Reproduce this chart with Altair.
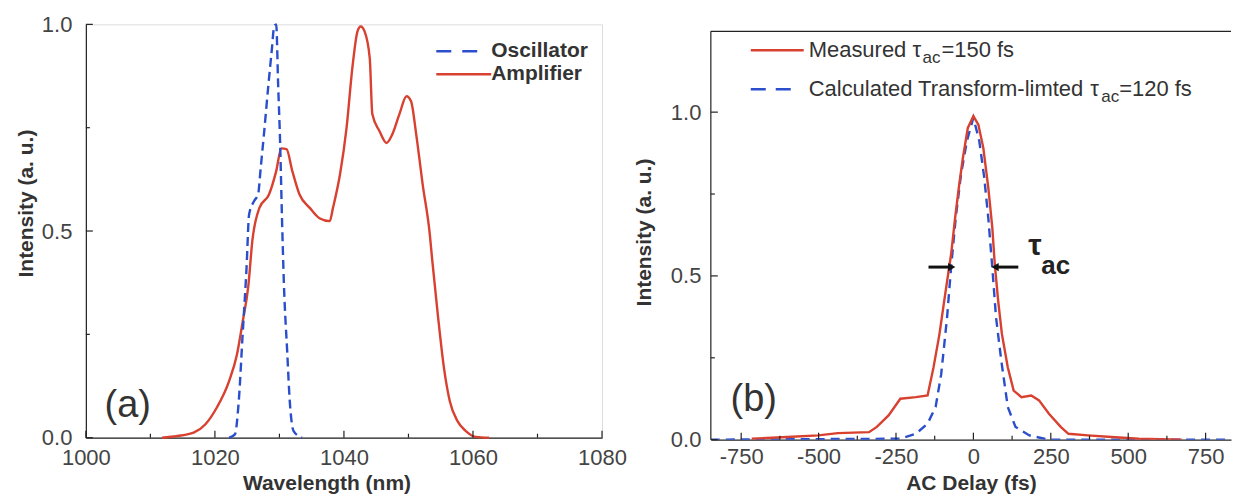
import altair as alt
import pandas as pd

# ---------------- panel (a): spectra ----------------
amp_wl = [1011.8, 1014.2, 1016.7, 1018.5, 1020.3, 1022.2, 1023.4, 1024.3, 1025.2, 1025.8,
          1026.9, 1028.4, 1029.5, 1030.3, 1031.1, 1032.0, 1033.1, 1034.7, 1036.2, 1037.8,
          1038.3, 1039.4, 1040.4, 1041.3, 1042.1, 1042.6, 1043.2, 1044.0, 1044.4, 1045.5,
          1046.6, 1047.5, 1048.6, 1049.7, 1050.4, 1051.2, 1052.2, 1053.3, 1053.7, 1054.6,
          1055.5, 1056.4, 1057.6, 1058.9, 1060.4, 1062.5]
amp_int = [0.0, 0.004, 0.012, 0.032, 0.073, 0.137, 0.2, 0.28, 0.37, 0.476,
           0.556, 0.589, 0.645, 0.70, 0.698, 0.645, 0.589, 0.556, 0.531, 0.524,
           0.556, 0.638, 0.749, 0.894, 0.983, 0.995, 0.983, 0.918, 0.783, 0.742,
           0.713, 0.734, 0.783, 0.826, 0.814, 0.734, 0.613, 0.493, 0.427, 0.29,
           0.169, 0.089, 0.04, 0.016, 0.002, 0.0]

osc_wl = [1022.2, 1023.1, 1023.7, 1024.3, 1024.9, 1025.3, 1026.1, 1026.7, 1027.1, 1027.6,
          1028.3, 1028.8, 1029.2, 1029.5, 1029.8, 1030.1, 1030.4, 1030.7, 1031.2, 1031.6,
          1032.2, 1033.5]
osc_int = [0.0, 0.008, 0.089, 0.25, 0.41, 0.54, 0.573, 0.589, 0.653, 0.734,
           0.855, 0.935, 0.996, 1.0, 0.855, 0.718, 0.53, 0.37, 0.21, 0.089,
           0.016, 0.0]

# ---------------- panel (b): autocorrelation ----------------
meas_t = [-716, -602, -501, -438, -337, -312, -274, -236, -186, -148,
          -129, -110, -91, -72, -59, -47, -34, -18, 0, 16,
          32, 48, 61, 69, 80, 92, 111, 130, 155, 187,
          212, 244, 282, 307, 370, 446, 534, 673]
meas_int = [0.003, 0.008, 0.013, 0.02, 0.023, 0.039, 0.074, 0.125, 0.13, 0.135,
            0.22, 0.32, 0.445, 0.566, 0.678, 0.77, 0.86, 0.952, 0.988, 0.962,
            0.891, 0.77, 0.648, 0.536, 0.424, 0.323, 0.221, 0.15, 0.13, 0.135,
            0.12, 0.079, 0.039, 0.018, 0.013, 0.008, 0.003, 0.0]

calc_t = [-848, -236, -186, -148, -122, -104, -85, -72, -57, -40,
          -21, 0, 19, 35, 48, 61, 73, 90, 111, 136,
          181, 244, 832]
calc_int = [0.0, 0.003, 0.018, 0.049, 0.1, 0.2, 0.374, 0.526, 0.678, 0.81,
            0.912, 0.983, 0.912, 0.8, 0.678, 0.526, 0.374, 0.242, 0.1, 0.039,
            0.013, 0.0, 0.0]

# FWHM markers
arrow_tail = [-145, 145]
arrow_tip = [-70, 70]
arrow_level = 0.527

# tick positions
a_x_major = [1000, 1020, 1040, 1060, 1080]
a_x_minor = [1010, 1030, 1050, 1070]
b_x_major = [-750, -500, -250, 0, 250, 500, 750]
b_x_minor = [-625, -375, -125, 125, 375, 625]
y_major = [0.0, 0.5, 1.0]
y_minor = [0.25, 0.75]

RED = "#d8402f"
BLUE = "#2b4fcc"
FONT = "Liberation Sans"
INK = "#222222"
TXT = "#333333"

W_A, H_A = 517, 414
W_B, H_B = 521, 416

xs_a = alt.Scale(domain=[1000, 1080], nice=False, zero=False)
ys_a = alt.Scale(domain=[0, 1], nice=False)
xs_b = alt.Scale(domain=[-848, 832], nice=False, zero=False)
ys_b = alt.Scale(domain=[0, 1.268], nice=False)


def x_axis(title, values, lpad, tpad, title_x=None, expr=None):
    kw = dict(title=title, values=values, ticks=False, tickSize=0, grid=False,
              labelPadding=lpad, labelFont=FONT, labelFontSize=22, labelColor="#444",
              labelFlush=False, labelOverlap=False,
              titleFont=FONT, titleFontSize=21, titleFontWeight="bold",
              titleColor=TXT, titlePadding=tpad, domainColor=INK, domainWidth=1.2)
    if title_x is not None:
        kw["titleX"] = title_x
    if expr is not None:
        kw["labelExpr"] = expr
    return alt.Axis(**kw)


def y_axis(lpad, tpad, domain=True, title_y=None):
    kw = dict(title="Intensity (a. u.)", values=y_major, format=".1f", ticks=False,
              tickSize=0, grid=False, labelPadding=lpad, labelFont=FONT,
              labelFontSize=22, labelColor="#444", labelFlush=False, labelOverlap=False,
              titleFont=FONT, titleFontSize=21, titleFontWeight="bold", titleColor=TXT,
              titlePadding=tpad, domain=domain, domainColor=INK, domainWidth=1.2)
    if title_y is not None:
        kw["titleY"] = title_y
    return alt.Axis(**kw)


def text_at(txt, x, y, size, bold=False, align="left", color=TXT):
    return alt.Chart(pd.DataFrame({"t": [txt]})).mark_text(
        font=FONT, fontSize=size, fontWeight="bold" if bold else "normal",
        align=align, baseline="middle", color=color
    ).encode(text="t:N", x=alt.value(x), y=alt.value(y))


def seg(x1, x2, y, color, dash=None, width=2.6):
    kw = dict(color=color, strokeWidth=width)
    if dash is not None:
        kw["strokeDash"] = dash
    return alt.Chart(pd.DataFrame({"k": [0]})).mark_rule(**kw).encode(
        x=alt.value(x1), x2=alt.value(x2), y=alt.value(y))


def x_ticks(vals, xs, ax, h, length):
    return alt.Chart(pd.DataFrame({"x": vals})).mark_rule(color=INK, strokeWidth=1.2).encode(
        x=alt.X("x:Q", scale=xs, axis=ax), y=alt.value(h), y2=alt.value(h - length))


def y_ticks(vals, ys, ax, length):
    return alt.Chart(pd.DataFrame({"y": vals})).mark_rule(color=INK, strokeWidth=1.2).encode(
        y=alt.Y("y:Q", scale=ys, axis=ax), x=alt.value(0), x2=alt.value(length))


# ---------------- panel (a) ----------------
ax_xa = x_axis("Wavelength (nm)", a_x_major, 10, 4, title_x=241, expr="'' + datum.value")
ax_ya = y_axis(14, 5, title_y=179)

amp = alt.Chart(pd.DataFrame({"x": amp_wl, "y": amp_int})).mark_line(
    color=RED, strokeWidth=2.4, interpolate="monotone").encode(
    x=alt.X("x:Q", scale=xs_a, axis=ax_xa), y=alt.Y("y:Q", scale=ys_a, axis=ax_ya))
osc = alt.Chart(pd.DataFrame({"x": osc_wl, "y": osc_int})).mark_line(
    color=BLUE, strokeWidth=2.4, strokeDash=[9, 5], interpolate="monotone").encode(
    x=alt.X("x:Q", scale=xs_a, axis=ax_xa), y=alt.Y("y:Q", scale=ys_a, axis=ax_ya))

panel_a = alt.layer(
    amp, osc,
    x_ticks(a_x_major, xs_a, ax_xa, H_A, 7),
    x_ticks(a_x_minor, xs_a, ax_xa, H_A, 4),
    y_ticks(y_major, ys_a, ax_ya, 7),
    y_ticks(y_minor, ys_a, ax_ya, 4),
    seg(351, 392, 27, BLUE, dash=[15, 11]),
    text_at("Oscillator", 406, 27, 21, bold=True),
    seg(351, 406, 50, RED),
    text_at("Amplifier", 406, 50, 21, bold=True),
    text_at("(a)", 42, 382, 38, align="center"),
).properties(width=W_A, height=H_A)

# ---------------- panel (b) ----------------
ax_xb = x_axis("AC Delay (fs)", b_x_major, 7, 5, expr="'' + datum.value")
ax_yb = y_axis(10, 16, domain=False)

meas = alt.Chart(pd.DataFrame({"x": meas_t, "y": meas_int})).mark_line(
    color=RED, strokeWidth=2.4, clip=True).encode(
    x=alt.X("x:Q", scale=xs_b, axis=ax_xb), y=alt.Y("y:Q", scale=ys_b, axis=ax_yb))
calc = alt.Chart(pd.DataFrame({"x": calc_t, "y": calc_int})).mark_line(
    color=BLUE, strokeWidth=2.4, strokeDash=[9, 6], clip=True).encode(
    x=alt.X("x:Q", scale=xs_b, axis=ax_xb), y=alt.Y("y:Q", scale=ys_b, axis=ax_yb))

arrows_df = pd.DataFrame({"x": arrow_tail, "x2": arrow_tip, "y": [arrow_level] * 2,
                          "shape": ["triangle-right", "triangle-left"]})
arrow_lines = alt.Chart(arrows_df).mark_rule(color="#111", strokeWidth=3).encode(
    x=alt.X("x:Q", scale=xs_b, axis=ax_xb), x2="x2:Q",
    y=alt.Y("y:Q", scale=ys_b, axis=ax_yb))
arrow_heads = alt.Chart(arrows_df).mark_point(
    filled=True, color="#111", size=70, opacity=1).encode(
    x=alt.X("x2:Q", scale=xs_b, axis=ax_xb),
    y=alt.Y("y:Q", scale=ys_b, axis=ax_yb),
    shape=alt.Shape("shape:N", scale=None))

frame_top = 7  # top frame line sits a little below the plot top
panel_b = alt.layer(
    calc, meas,
    arrow_lines, arrow_heads,
    x_ticks(b_x_major, xs_b, ax_xb, H_B, 7),
    x_ticks(b_x_minor, xs_b, ax_xb, H_B, 4),
    y_ticks(y_major, ys_b, ax_yb, 7),
    y_ticks(y_minor, ys_b, ax_yb, 4),
    alt.Chart(pd.DataFrame({"k": [0]})).mark_rule(color=INK, strokeWidth=1.2).encode(
        x=alt.value(0), y=alt.value(frame_top), y2=alt.value(H_B)),
    alt.Chart(pd.DataFrame({"k": [0]})).mark_rule(color=INK, strokeWidth=1.2).encode(
        x=alt.value(0), x2=alt.value(W_B), y=alt.value(frame_top)),
    # legend
    seg(40, 93, 26, RED),
    text_at("Measured", 98, 26, 22),
    text_at("τ", 202, 26, 22),
    text_at("ac", 212, 34, 17),
    text_at("=150 fs", 231, 26, 22),
    seg(40, 80, 65, BLUE, dash=[15, 10]),
    text_at("Calculated Transform-limted", 98, 65, 22),
    text_at("τ", 380, 65, 22),
    text_at("ac", 391, 73, 17),
    text_at("=120 fs", 409, 65, 22),
    # FWHM label
    text_at("τ", 318, 222, 30, bold=True, color="#222"),
    text_at("ac", 331, 242, 26, bold=True, color="#222"),
    text_at("(b)", 43, 376, 38, align="center"),
).properties(width=W_B, height=H_B, view=alt.ViewBackground(stroke="transparent"))

chart = alt.hconcat(panel_a, panel_b, spacing=109, bounds="flush").properties(
    padding={"left": 14, "top": 12, "right": 0, "bottom": 0}
).configure_view(stroke=INK, strokeWidth=1.2).configure(background="white")

chart.save("out.html", embed_options={"renderer": "svg", "actions": False})
